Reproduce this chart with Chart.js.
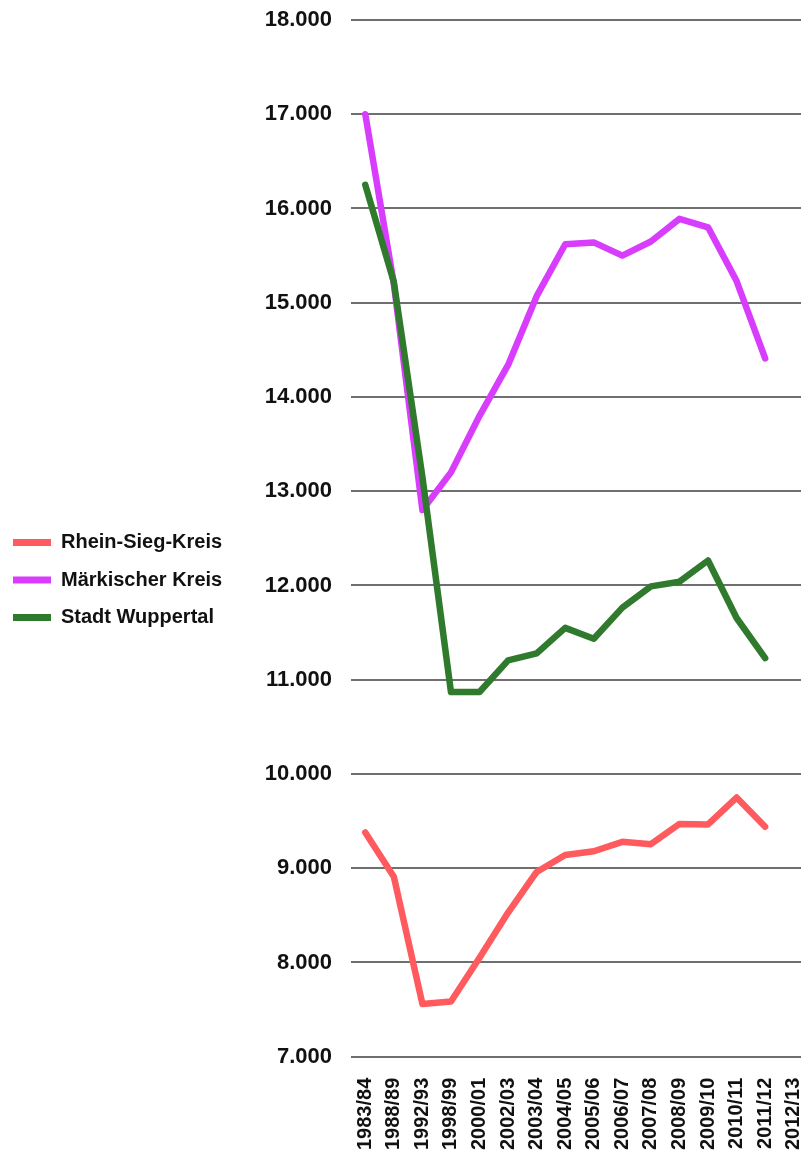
<!DOCTYPE html>
<html>
<head>
<meta charset="utf-8">
<script src="https://cdn.jsdelivr.net/npm/chart.js@4"></script>
<style>
  html, body { margin: 0; padding: 0; background: #fff; overflow: hidden; }
  #wrap { position: relative; width: 810px; height: 1160px; }
</style>
</head>
<body>
<div id="wrap"><canvas id="chart"></canvas></div>
<script>
// school years on the x axis (last one has no values)
var years = ['1983/84', '1988/89', '1992/93', '1998/99', '2000/01', '2002/03', '2003/04',
  '2004/05', '2005/06', '2006/07', '2007/08', '2008/09', '2009/10', '2010/11', '2011/12', '2012/13'];

var rheinSieg = [9380, 8910, 7560, 7585, 8050, 8530, 8960, 9140, 9180, 9280, 9255, 9470, 9465, 9750, 9440, null];
var maerkisch = [17000, 15200, 12800, 13200, 13800, 14340, 15070, 15620, 15640, 15500, 15650, 15890, 15800, 15230, 14410, null];
var wuppertal = [16250, 15220, 13150, 10870, 10870, 11205, 11280, 11550, 11435, 11765, 11990, 12040, 12265, 11655, 11230, null];

var yMin = 7000, yMax = 18000, yStep = 1000;

var PLOT_LEFT = 351;
var PLOT_TOP = 20;
var PAD_LEFT = -4.5;

function line(label, data, color, order) {
  return {
    label: label,
    data: data,
    borderColor: color,
    backgroundColor: color,
    borderWidth: 6.5,
    borderCapStyle: 'round',
    borderJoinStyle: 'round',
    pointRadius: 0,
    tension: 0,
    order: order
  };
}

// legend is clipped to its measured box; let the labels run to the axis
var legendRoom = {
  id: 'legendRoom',
  afterLayout: function (chart) {
    if (chart.legend) {
      chart.legend.right = chart.legend.left + 300;
    }
  }
};

var ctx = document.getElementById('chart').getContext('2d');
new Chart(ctx, {
  type: 'line',
  data: {
    labels: years,
    datasets: [
      line('Rhein-Sieg-Kreis', rheinSieg, '#ff5a5e', 2),
      line('Märkischer Kreis', maerkisch, '#d83dfd', 1),
      line('Stadt Wuppertal', wuppertal, '#307a2d', 0)
    ]
  },
  options: {
    responsive: true,
    maintainAspectRatio: false,
    animation: false,
    layout: {
      padding: { left: PAD_LEFT, right: 2, top: -11, bottom: -11 }
    },
    plugins: {
      tooltip: { enabled: false },
      legend: {
        position: 'left',
        labels: {
          boxWidth: 38,
          boxHeight: 7,
          padding: 17.5,
          color: '#111',
          font: { family: 'Liberation Sans, Arial, sans-serif', size: 20, weight: 'bold' },
          sort: function (a, b) { return a.datasetIndex - b.datasetIndex; },
          generateLabels: function (chart) {
            var items = Chart.defaults.plugins.legend.labels.generateLabels(chart);
            items.forEach(function (it) {
              it.lineWidth = 0;
              it.strokeStyle = 'rgba(0,0,0,0)';
            });
            return items;
          }
        }
      }
    },
    scales: {
      x: {
        offset: true,
        afterFit: function (scale) {
          scale.paddingLeft = 0;
          scale.paddingRight = 0;
        },
        grid: { display: false, drawTicks: false },
        border: { display: false },
        ticks: {
          autoSkip: false,
          minRotation: 90,
          maxRotation: 90,
          padding: 21,
          color: '#111',
          font: { family: 'Liberation Sans, Arial, sans-serif', size: 20, weight: 'bold' }
        }
      },
      y: {
        min: yMin,
        max: yMax,
        afterFit: function (scale) {
          scale.width = PLOT_LEFT - PAD_LEFT - scale.chart.legend.width;
          scale.paddingTop = PLOT_TOP;
        },
        grid: { color: '#6f6f6f', lineWidth: 2, drawTicks: false },
        border: { display: false },
        ticks: {
          stepSize: yStep,
          padding: 19,
          color: '#111',
          font: { family: 'Liberation Sans, Arial, sans-serif', size: 22, weight: 'bold' },
          callback: function (v) { return (v / 1000).toFixed(3); }
        }
      }
    }
  },
  plugins: [legendRoom]
});
</script>
</body>
</html>
